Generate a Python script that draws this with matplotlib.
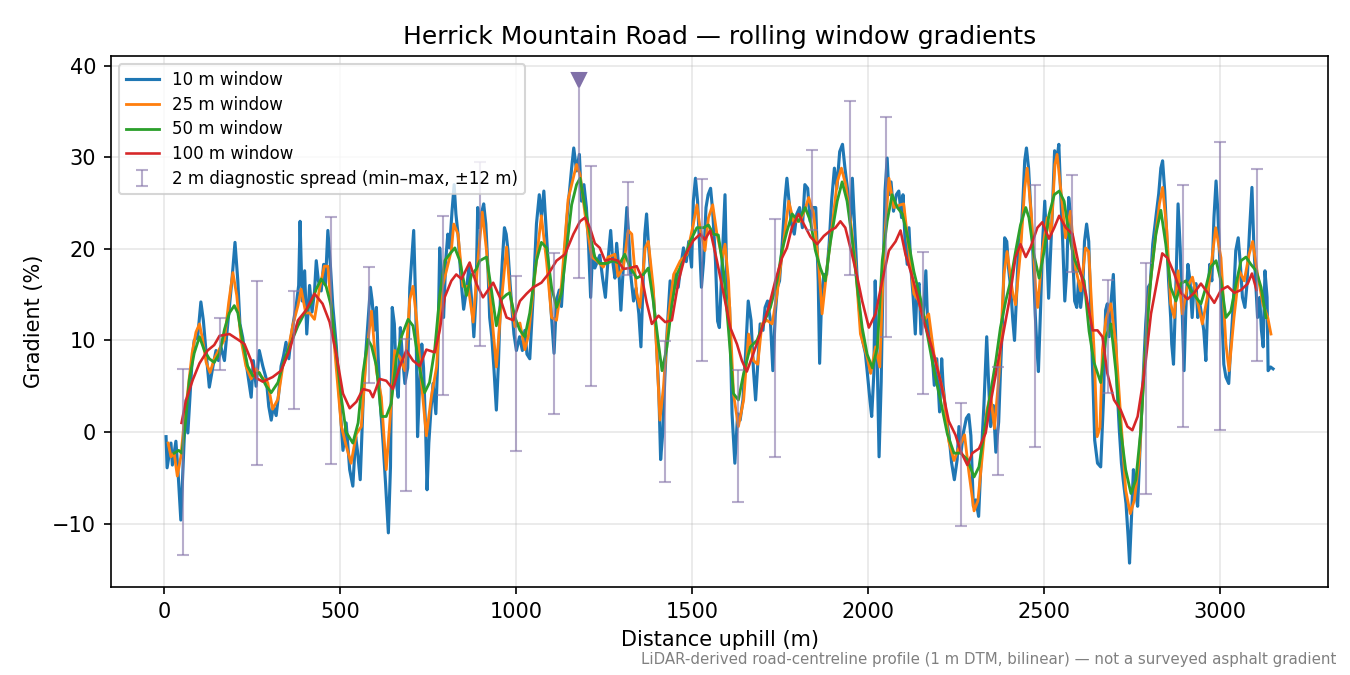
import numpy as np
import matplotlib.pyplot as plt

# Rolling window gradients (distance m, gradient %)
x10 = [5, 8, 19, 23, 33, 39, 47, 56, 62, 67, 79, 85, 95, 104, 111, 119, 128, 138, 147, 154,
       161, 171, 178, 185, 193, 201, 209, 215, 223, 237, 247, 253, 261, 270, 280, 290, 297, 304, 310, 318,
       325, 332, 339, 346, 354, 361, 367, 375, 382, 386, 392, 399, 405, 413, 420, 427, 432, 438, 446, 453,
       458, 465, 472, 479, 489, 498, 508, 517, 527, 536, 544, 549, 557, 565, 572, 580, 586, 591, 597, 603,
       608, 614, 622, 629, 637, 643, 648, 654, 660, 665, 671, 677, 684, 692, 698, 703, 709, 715, 720, 726,
       732, 737, 743, 747, 752, 758, 764, 772, 777, 783, 788, 794, 800, 806, 811, 818, 824, 829, 835, 840,
       846, 851, 859, 866, 874, 880, 886, 891, 897, 903, 908, 914, 920, 925, 931, 937, 944, 950, 956, 961,
       967, 972, 977, 983, 988, 994, 1001, 1010, 1018, 1025, 1031, 1039, 1049, 1058, 1066, 1072, 1079, 1087, 1094, 1100,
       1108, 1115, 1123, 1129, 1136, 1144, 1151, 1158, 1164, 1172, 1180, 1186, 1193, 1200, 1206, 1212, 1218, 1224, 1231, 1238,
       1246, 1254, 1261, 1269, 1275, 1281, 1286, 1292, 1298, 1303, 1309, 1315, 1320, 1326, 1334, 1341, 1349, 1355, 1360, 1366,
       1371, 1377, 1383, 1390, 1398, 1406, 1411, 1417, 1423, 1430, 1438, 1446, 1453, 1461, 1468, 1476, 1484, 1491, 1499, 1504,
       1510, 1516, 1522, 1527, 1533, 1540, 1546, 1553, 1559, 1567, 1573, 1578, 1586, 1594, 1599, 1607, 1614, 1622, 1630, 1637,
       1645, 1652, 1660, 1668, 1675, 1681, 1689, 1694, 1702, 1708, 1715, 1723, 1730, 1737, 1743, 1749, 1757, 1764, 1770, 1776,
       1783, 1791, 1798, 1806, 1814, 1821, 1829, 1836, 1844, 1852, 1859, 1863, 1869, 1875, 1883, 1890, 1897, 1905, 1912, 1920,
       1928, 1935, 1943, 1951, 1956, 1962, 1970, 1977, 1985, 1993, 1998, 2006, 2011, 2017, 2021, 2026, 2032, 2038, 2043, 2049,
       2055, 2060, 2066, 2073, 2081, 2088, 2096, 2100, 2106, 2112, 2117, 2123, 2129, 2135, 2140, 2146, 2151, 2159, 2165, 2170,
       2176, 2183, 2189, 2196, 2204, 2210, 2214, 2223, 2231, 2238, 2246, 2254, 2259, 2265, 2272, 2280, 2287, 2293, 2300, 2307,
       2315, 2322, 2330, 2338, 2343, 2349, 2357, 2364, 2372, 2377, 2383, 2389, 2395, 2400, 2406, 2412, 2417, 2423, 2429, 2434,
       2440, 2446, 2451, 2457, 2463, 2468, 2476, 2481, 2485, 2491, 2497, 2503, 2508, 2514, 2519, 2525, 2531, 2537, 2543, 2548,
       2554, 2560, 2566, 2571, 2577, 2582, 2588, 2594, 2599, 2605, 2611, 2616, 2622, 2628, 2633, 2639, 2645, 2653, 2662, 2670,
       2676, 2681, 2686, 2691, 2698, 2704, 2709, 2715, 2721, 2726, 2734, 2740, 2744, 2750, 2755, 2761, 2767, 2774, 2782, 2790,
       2797, 2803, 2810, 2820, 2827, 2833, 2838, 2844, 2849, 2855, 2861, 2864, 2869, 2875, 2882, 2888, 2893, 2899, 2904, 2910,
       2916, 2922, 2927, 2933, 2938, 2944, 2950, 2955, 2961, 2967, 2972, 2978, 2984, 2990, 2995, 3001, 3007, 3012, 3018, 3026,
       3031, 3039, 3046, 3053, 3059, 3065, 3072, 3078, 3085, 3092, 3097, 3102, 3108, 3114, 3119, 3124, 3129, 3135, 3138, 3145,
       3152]
g10 = [-0.5, -3.9, -1.2, -3.6, -1.0, -4.3, -9.6, -1.3, 3.5, -0.1, 7.8, 10.0, 10.4, 14.2, 12.2, 8.6, 4.9, 7.1, 8.9, 7.8,
       9.3, 7.8, 10.8, 13.6, 16.9, 20.7, 16.5, 11.8, 10.3, 6.4, 3.8, 7.8, 5.0, 8.9, 7.2, 5.8, 2.8, 1.3, 2.8, 1.8,
       4.1, 7.2, 8.3, 9.8, 8.0, 10.5, 12.0, 13.8, 16.0, 23.0, 14.3, 17.6, 10.7, 16.0, 13.1, 15.3, 18.7, 16.5, 15.4, 18.3,
       16.1, 22.0, 18.3, 13.8, 9.4, 3.8, -2.0, 1.0, -4.1, -5.9, -0.5, -2.0, -5.2, 3.1, 8.2, 12.5, 15.8, 14.3, 11.1, 13.6,
       8.2, 3.1, -1.2, -5.6, -11.0, -3.8, 13.6, 11.8, 5.3, 3.8, 11.4, 8.2, 5.3, 7.0, 15.8, 18.7, 22.0, 13.6, -0.5, 5.3,
       9.6, 7.0, 0.2, -6.3, -1.2, 2.4, 5.3, 2.0, 7.5, 20.1, 16.0, 12.5, 18.7, 21.6, 20.1, 24.1, 27.0, 23.8, 21.6, 18.7,
       15.5, 13.4, 15.5, 18.0, 14.3, 10.4, 14.6, 24.5, 22.3, 24.1, 24.9, 22.7, 18.0, 12.5, 10.4, 7.0, 2.4, 7.6, 15.1, 18.7,
       22.3, 21.6, 19.8, 16.2, 13.6, 10.7, 8.9, 10.4, 8.9, 11.1, 8.5, 8.0, 15.1, 22.7, 25.9, 23.5, 26.3, 21.3, 17.0, 13.0,
       8.6, 14.4, 15.5, 13.7, 18.0, 23.0, 25.9, 28.8, 31.0, 28.5, 30.3, 25.2, 27.0, 24.5, 20.5, 14.7, 20.1, 17.9, 18.6, 19.3,
       16.8, 14.7, 18.6, 22.0, 18.6, 16.8, 20.6, 17.9, 13.3, 16.8, 20.8, 24.5, 21.6, 17.2, 14.3, 15.7, 12.9, 9.3, 15.1, 21.6,
       23.8, 20.1, 17.2, 15.1, 10.7, 4.2, -3.0, -0.1, 6.0, 11.4, 16.5, 15.1, 17.2, 15.8, 18.0, 20.1, 18.6, 20.8, 18.0, 25.2,
       27.7, 25.2, 20.1, 15.8, 18.6, 24.5, 25.9, 26.6, 24.1, 18.6, 12.1, 11.4, 18.6, 25.9, 16.5, 13.6, 2.0, -3.4, 2.0, 1.3,
       3.5, 8.2, 14.3, 12.2, 6.7, 3.5, 8.6, 11.8, 11.1, 13.6, 14.3, 12.2, 6.7, 12.9, 15.8, 16.5, 20.8, 25.2, 27.7, 25.2,
       22.7, 21.6, 23.8, 24.5, 22.3, 27.0, 26.6, 23.0, 24.5, 24.5, 16.5, 7.5, 15.1, 17.2, 17.2, 20.5, 25.2, 28.8, 26.6, 30.6,
       31.4, 28.8, 26.3, 23.0, 27.7, 23.0, 16.5, 12.9, 10.0, 8.6, 6.7, 3.5, 1.7, 6.3, 16.5, 9.3, -2.7, 5.5, 16.5, 26.3,
       29.9, 25.9, 27.3, 24.1, 25.9, 26.3, 23.4, 25.9, 20.8, 18.3, 22.3, 17.6, 14.7, 10.7, 15.8, 16.2, 10.7, 13.6, 17.6, 11.8,
       10.0, 8.5, 5.1, 8.0, 2.2, 8.0, 5.1, 1.6, -0.4, -3.3, -5.2, -3.0, 0.6, -2.2, 0.0, 1.5, 1.9, -0.4, -8.1, -7.4,
       -9.2, -3.0, 2.9, 10.4, 5.7, 0.6, 2.9, -2.2, 1.1, 6.5, 12.3, 21.2, 20.8, 17.9, 15.8, 12.3, 10.0, 15.1, 20.8, 20.8,
       24.5, 29.6, 31.0, 28.8, 24.5, 20.8, 12.8, 9.1, 6.6, 13.4, 20.8, 25.2, 20.8, 14.6, 19.0, 24.5, 30.7, 29.6, 31.4, 26.3,
       20.8, 14.3, 17.9, 25.6, 23.4, 19.7, 14.3, 13.6, 16.5, 13.6, 15.8, 20.8, 22.7, 20.8, 14.3, 6.3, -0.9, -3.4, -3.8, 3.6,
       13.3, 14.0, 10.4, 14.0, 17.2, 11.1, 4.6, 0.2, -3.4, -5.2, -7.8, -11.4, -14.3, -8.9, -4.1, -6.3, -8.1, -1.6, 5.3, 11.8,
       15.8, 16.2, 20.5, 23.8, 26.0, 28.8, 29.6, 26.3, 22.0, 16.5, 12.5, 9.6, 7.4, 14.7, 24.9, 20.1, 14.0, 6.7, 13.3, 18.3,
       16.5, 12.5, 15.8, 16.2, 12.5, 14.0, 12.5, 11.1, 7.8, 14.7, 18.3, 16.5, 23.4, 27.4, 24.1, 18.3, 12.5, 7.4, 6.0, 5.3,
       8.9, 14.0, 19.8, 21.2, 18.3, 14.7, 13.6, 16.2, 21.9, 26.7, 20.8, 16.8, 12.5, 14.7, 11.1, 9.3, 17.6, 14.7, 6.7, 7.1,
       6.9]

x25 = [11, 19, 28, 37, 47, 57, 66, 79, 90, 100, 109, 119, 130, 142, 157, 171, 183, 195, 206, 218,
       232, 247, 261, 275, 294, 308, 323, 337, 351, 365, 380, 389, 402, 413, 427, 441, 455, 465, 474, 489,
       503, 517, 531, 546, 560, 574, 589, 603, 617, 631, 645, 655, 669, 684, 698, 707, 718, 731, 745, 759,
       774, 788, 802, 816, 823, 835, 849, 864, 878, 892, 904, 916, 930, 944, 959, 973, 982, 997, 1011, 1025,
       1035, 1049, 1063, 1072, 1087, 1101, 1115, 1129, 1148, 1172, 1182, 1196, 1215, 1229, 1248, 1262, 1281, 1290, 1305, 1319,
       1329, 1343, 1352, 1367, 1376, 1390, 1400, 1409, 1419, 1433, 1448, 1467, 1486, 1504, 1514, 1523, 1537, 1547, 1559, 1571,
       1586, 1594, 1604, 1618, 1632, 1647, 1661, 1675, 1687, 1699, 1713, 1728, 1742, 1761, 1775, 1789, 1808, 1823, 1832, 1846,
       1861, 1870, 1884, 1899, 1913, 1925, 1937, 1951, 1965, 1979, 1998, 2008, 2022, 2034, 2046, 2060, 2074, 2093, 2102, 2117,
       2131, 2145, 2159, 2173, 2188, 2202, 2216, 2230, 2245, 2259, 2275, 2287, 2302, 2313, 2325, 2338, 2349, 2360, 2373, 2387,
       2396, 2411, 2420, 2434, 2446, 2453, 2465, 2477, 2483, 2496, 2510, 2521, 2532, 2538, 2549, 2562, 2576, 2590, 2605, 2619,
       2628, 2643, 2652, 2660, 2667, 2677, 2691, 2705, 2719, 2733, 2746, 2758, 2772, 2786, 2800, 2814, 2829, 2838, 2850, 2861,
       2871, 2882, 2894, 2908, 2923, 2937, 2951, 2965, 2980, 2989, 3004, 3018, 3027, 3041, 3056, 3070, 3084, 3094, 3108, 3123,
       3137, 3146]
g25 = [-1.2, -2.7, -2.3, -4.8, -2.7, 1.3, 4.2, 8.6, 10.9, 11.8, 10.1, 7.6, 6.5, 8.0, 9.1, 10.1, 14.1, 17.4, 14.9, 10.1,
       7.2, 5.8, 6.9, 6.1, 5.4, 2.5, 3.6, 7.2, 8.7, 11.6, 13.8, 15.6, 13.0, 13.0, 12.3, 15.6, 18.1, 18.1, 13.8, 6.9,
       0.7, -1.5, -3.4, -0.2, 0.6, 8.2, 13.2, 6.7, 3.8, -4.1, 3.1, 8.9, 8.2, 6.7, 14.5, 15.9, 12.0, 5.4, -0.4, 3.8,
       7.1, 15.5, 17.6, 19.8, 22.7, 21.6, 15.9, 15.9, 12.0, 18.9, 24.0, 19.8, 13.2, 7.1, 14.5, 20.2, 15.5, 11.5, 11.9, 9.0,
       10.5, 15.5, 20.5, 23.6, 18.5, 12.5, 12.2, 16.0, 25.4, 29.2, 28.1, 23.8, 19.1, 18.7, 18.0, 19.1, 19.4, 17.0, 18.0, 22.0,
       21.6, 15.1, 13.6, 20.1, 20.8, 15.8, 8.6, 1.3, 4.9, 12.5, 17.2, 18.7, 19.4, 22.7, 24.8, 22.3, 19.8, 23.4, 24.8, 21.6,
       19.0, 20.5, 16.5, 4.2, 0.6, 3.5, 10.7, 7.8, 7.4, 11.8, 12.2, 11.8, 15.1, 20.8, 25.2, 23.0, 23.0, 24.5, 25.6, 23.8,
       17.9, 12.9, 17.9, 22.6, 27.3, 28.8, 27.0, 23.0, 18.3, 10.7, 8.2, 6.4, 9.3, 7.1, 20.1, 27.7, 24.5, 24.8, 24.9, 19.8,
       15.1, 14.3, 12.1, 12.9, 8.5, 6.3, 4.1, -1.0, -3.1, -1.7, -0.3, -4.3, -8.6, -7.5, -2.8, 2.3, 4.1, 0.4, 6.3, 17.2,
       19.7, 15.4, 13.9, 19.7, 26.6, 28.8, 23.7, 15.8, 13.6, 19.7, 23.4, 21.6, 29.2, 30.3, 26.3, 21.2, 24.1, 18.0, 15.4, 20.1,
       19.7, 9.1, -0.5, 0.5, 9.0, 12.3, 14.0, 9.6, 1.7, -6.3, -8.9, -7.4, -2.7, 7.4, 15.1, 20.1, 24.9, 26.7, 22.0, 14.0,
       12.5, 17.6, 12.9, 15.8, 16.9, 14.3, 11.8, 14.7, 19.4, 22.3, 19.0, 9.6, 6.7, 12.5, 17.6, 16.5, 19.4, 20.8, 17.2, 14.0,
       12.5, 10.7]

x50 = [28, 41, 50, 60, 71, 85, 100, 114, 128, 142, 157, 171, 185, 199, 209, 223, 237, 252, 270, 290,
       304, 323, 342, 361, 380, 399, 418, 432, 446, 460, 474, 489, 503, 517, 536, 551, 565, 579, 589, 603,
       617, 631, 645, 660, 674, 693, 707, 726, 740, 754, 769, 783, 797, 811, 826, 840, 859, 873, 887, 897,
       916, 930, 944, 959, 973, 982, 997, 1011, 1025, 1039, 1058, 1072, 1087, 1101, 1115, 1129, 1144, 1158, 1172, 1182,
       1196, 1210, 1224, 1238, 1257, 1276, 1295, 1309, 1324, 1343, 1362, 1376, 1390, 1405, 1415, 1429, 1443, 1457, 1476, 1495,
       1514, 1533, 1547, 1561, 1575, 1590, 1604, 1618, 1632, 1647, 1666, 1685, 1703, 1723, 1742, 1756, 1770, 1785, 1803, 1822,
       1837, 1851, 1865, 1879, 1894, 1913, 1927, 1941, 1955, 1970, 1984, 1998, 2013, 2027, 2041, 2055, 2069, 2084, 2098, 2112,
       2131, 2150, 2169, 2188, 2207, 2226, 2245, 2264, 2283, 2302, 2316, 2330, 2345, 2364, 2377, 2392, 2406, 2420, 2434, 2449,
       2458, 2472, 2487, 2501, 2515, 2530, 2544, 2558, 2572, 2586, 2601, 2615, 2629, 2643, 2662, 2677, 2691, 2705, 2719, 2733,
       2748, 2762, 2776, 2790, 2805, 2819, 2833, 2847, 2861, 2876, 2890, 2904, 2918, 2933, 2947, 2961, 2975, 2990, 3004, 3018,
       3032, 3047, 3061, 3075, 3089, 3104, 3118, 3132]
g50 = [-2.3, -2.0, -2.3, 1.0, 5.7, 8.6, 10.4, 8.9, 8.0, 7.6, 8.6, 11.2, 13.0, 13.8, 13.0, 9.8, 7.2, 6.1, 6.5, 5.0,
       4.3, 5.4, 8.0, 9.8, 11.6, 13.0, 14.1, 15.6, 16.7, 15.9, 13.8, 8.6, 3.8, 0.0, -1.2, 1.0, 6.5, 10.1, 9.4, 7.2,
       1.7, 1.7, 3.1, 8.2, 10.4, 12.3, 11.6, 6.9, 4.3, 5.4, 9.1, 14.9, 18.7, 19.4, 20.1, 18.7, 14.9, 17.1, 17.8, 18.7,
       19.1, 15.5, 11.6, 14.5, 15.0, 15.2, 12.5, 11.1, 10.4, 13.0, 18.7, 20.7, 20.1, 15.8, 13.6, 15.1, 20.1, 24.8, 27.0, 27.7,
       24.5, 21.6, 19.1, 18.4, 18.4, 18.7, 18.4, 19.4, 18.0, 16.8, 17.2, 17.9, 14.3, 9.6, 6.7, 9.3, 13.9, 17.2, 18.7, 20.8,
       22.3, 22.3, 22.6, 21.6, 21.5, 17.5, 11.1, 4.2, 3.5, 6.4, 9.3, 10.0, 11.8, 13.6, 16.5, 19.8, 21.9, 23.8, 23.0, 24.5,
       23.0, 19.8, 17.9, 16.5, 20.8, 25.2, 27.3, 25.2, 21.2, 15.8, 11.4, 8.5, 7.0, 9.2, 18.7, 23.0, 25.9, 24.5, 23.8, 21.5,
       17.5, 14.5, 10.7, 6.7, 3.4, -0.2, -2.3, -2.3, -3.0, -4.9, -3.8, -0.2, 3.4, 7.8, 11.4, 14.3, 16.5, 19.7, 22.6, 24.5,
       23.4, 19.4, 16.8, 19.7, 23.7, 25.9, 26.3, 25.2, 21.6, 19.0, 17.6, 16.5, 11.0, 7.6, 5.4, 10.4, 11.8, 6.7, 0.2, -4.1,
       -6.7, -5.2, 0.2, 9.6, 16.9, 21.6, 24.2, 20.5, 15.8, 14.3, 16.2, 16.5, 15.5, 14.7, 14.0, 15.8, 18.0, 18.7, 16.5, 12.5,
       13.2, 16.2, 18.7, 19.1, 18.3, 17.6, 15.8, 12.5]

x100 = [49, 62, 81, 100, 123, 142, 157, 185, 209, 228, 247, 261, 280, 308, 332, 356, 380, 403, 427, 450,
        470, 489, 508, 527, 546, 565, 584, 593, 612, 631, 650, 669, 688, 707, 726, 745, 769, 783, 797, 816,
        830, 845, 868, 887, 906, 935, 954, 973, 992, 1011, 1030, 1049, 1072, 1091, 1115, 1139, 1163, 1182, 1196, 1210,
        1224, 1238, 1253, 1271, 1290, 1305, 1324, 1343, 1358, 1371, 1386, 1405, 1424, 1443, 1462, 1481, 1504, 1523, 1537, 1552,
        1571, 1590, 1609, 1628, 1642, 1656, 1675, 1694, 1718, 1737, 1756, 1770, 1784, 1803, 1818, 1837, 1856, 1875, 1894, 1908,
        1922, 1936, 1955, 1970, 1984, 2003, 2022, 2041, 2060, 2079, 2093, 2107, 2126, 2140, 2159, 2183, 2207, 2230, 2249, 2264,
        2283, 2297, 2316, 2335, 2349, 2368, 2383, 2402, 2420, 2434, 2449, 2463, 2482, 2496, 2515, 2530, 2544, 2563, 2582, 2601,
        2620, 2639, 2653, 2667, 2681, 2700, 2719, 2738, 2752, 2767, 2786, 2805, 2823, 2837, 2852, 2871, 2890, 2909, 2928, 2947,
        2966, 2985, 3004, 3023, 3042, 3061, 3080, 3092, 3105]
g100 = [1.0, 3.5, 5.7, 7.5, 8.9, 9.5, 10.5, 10.7, 10.1, 9.6, 7.8, 5.9, 5.5, 6.0, 6.7, 8.9, 12.2, 13.3, 15.1, 14.0,
        12.0, 8.5, 4.2, 2.6, 3.3, 4.7, 4.5, 3.8, 5.8, 5.6, 4.7, 7.1, 8.9, 7.8, 7.2, 9.0, 8.7, 11.1, 14.7, 16.5,
        17.2, 16.7, 18.5, 16.2, 14.7, 16.3, 14.7, 12.5, 12.2, 14.3, 15.1, 15.8, 16.3, 17.2, 18.7, 19.4, 21.6, 23.0, 23.4, 22.3,
        20.6, 20.1, 18.7, 18.9, 18.7, 17.8, 17.9, 18.1, 16.8, 14.2, 11.8, 12.7, 12.0, 12.2, 16.5, 19.3, 20.9, 21.6, 21.0, 22.0,
        18.7, 15.1, 11.4, 9.6, 7.8, 6.6, 8.6, 10.7, 13.6, 16.5, 19.0, 20.1, 22.3, 23.8, 22.7, 21.3, 20.5, 21.4, 22.0, 22.3,
        23.0, 22.3, 19.4, 16.9, 14.3, 11.4, 12.9, 16.5, 19.8, 20.8, 22.0, 19.4, 17.0, 15.0, 12.1, 9.1, 5.5, 1.2, -0.3, -2.1,
        -3.6, -2.3, -1.8, -0.1, 3.2, 7.2, 10.4, 14.3, 19.1, 20.5, 19.1, 20.2, 22.3, 22.9, 21.1, 22.3, 23.6, 22.3, 21.6, 18.0,
        15.1, 11.1, 11.1, 10.4, 6.4, 3.5, 2.4, 0.6, 0.2, 1.7, 6.4, 12.9, 16.6, 19.5, 19.0, 17.3, 15.2, 14.5, 15.2, 16.2,
        15.2, 14.1, 15.5, 15.9, 15.2, 15.5, 16.2, 17.3, 15.5]

# 2 m diagnostic spread (min-max over +/-12 m)
spread_x = [52, 158, 264, 370, 475, 581, 686, 793, 897, 1001, 1108, 1212, 1317, 1424, 1528,
            1631, 1737, 1842, 1948, 2053, 2157, 2264, 2369, 2474, 2580, 2684, 2790, 2896, 3001, 3106]
spread_lo = [-13.4, 6.8, -3.6, 2.5, -3.5, 5.4, -6.4, 4.0, 9.4, -2.1, 2.0, 5.0, 17.1, -5.4, 7.8,
             -7.6, -2.7, 22.0, 17.1, 10.4, 4.1, -10.2, -4.7, -1.6, 17.5, 4.3, -6.8, 0.5, 0.2, 7.8]
spread_hi = [6.9, 12.4, 16.5, 15.4, 23.5, 18.0, 10.2, 23.6, 29.5, 17.0, 19.5, 29.0, 27.3, 9.9, 27.6,
             6.8, 23.3, 30.8, 36.1, 34.4, 19.6, 3.2, 7.1, 27.0, 28.1, 16.6, 18.5, 27.0, 31.6, 28.7]
# steepest 2 m spread, topped with a marker
peak_x, peak_lo, peak_hi = 1180, 16.8, 38.4

bar_color = '#8877aa'

fig, ax = plt.subplots(figsize=(9, 4.5), dpi=150)
fig.subplots_adjust(left=0.082, right=0.984, top=0.917, bottom=0.130)

ax.plot(x10, g10, color='#1f77b4', lw=1.5, label='10 m window')
ax.plot(x25, g25, color='#ff7f0e', lw=1.35, label='25 m window')
ax.plot(x50, g50, color='#2ca02c', lw=1.35, label='50 m window')
ax.plot(x100, g100, color='#d62728', lw=1.25, label='100 m window')

lo = np.array(spread_lo)
hi = np.array(spread_hi)
ax.errorbar(spread_x, (lo + hi) / 2, yerr=(hi - lo) / 2, fmt='none', ecolor=bar_color, alpha=0.6,
            elinewidth=1.0, capsize=3, capthick=1.0,
            label='2 m diagnostic spread (min–max, ±12 m)')
ax.vlines(peak_x, peak_lo, peak_hi, color=bar_color, alpha=0.6, lw=1.0)
ax.plot([peak_x], [peak_lo], marker='_', markersize=6, markeredgewidth=1.0,
        color=bar_color, alpha=0.6, linestyle='none')
ax.plot([peak_x], [peak_hi], marker='v', color='#8070a8', markersize=7, linestyle='none')

ax.set_title('Herrick Mountain Road — rolling window gradients')
ax.set_xlabel('Distance uphill (m)')
ax.set_ylabel('Gradient (%)')
ax.grid(True, alpha=0.3)
ax.legend(loc='upper left', fontsize=8, labelspacing=0.4)

fig.text(0.99, 0.012, 'LiDAR-derived road-centreline profile (1 m DTM, bilinear) — not a surveyed asphalt gradient',
         ha='right', va='bottom', fontsize=7.2, color='gray')

fig.savefig('out.png', dpi=150)
